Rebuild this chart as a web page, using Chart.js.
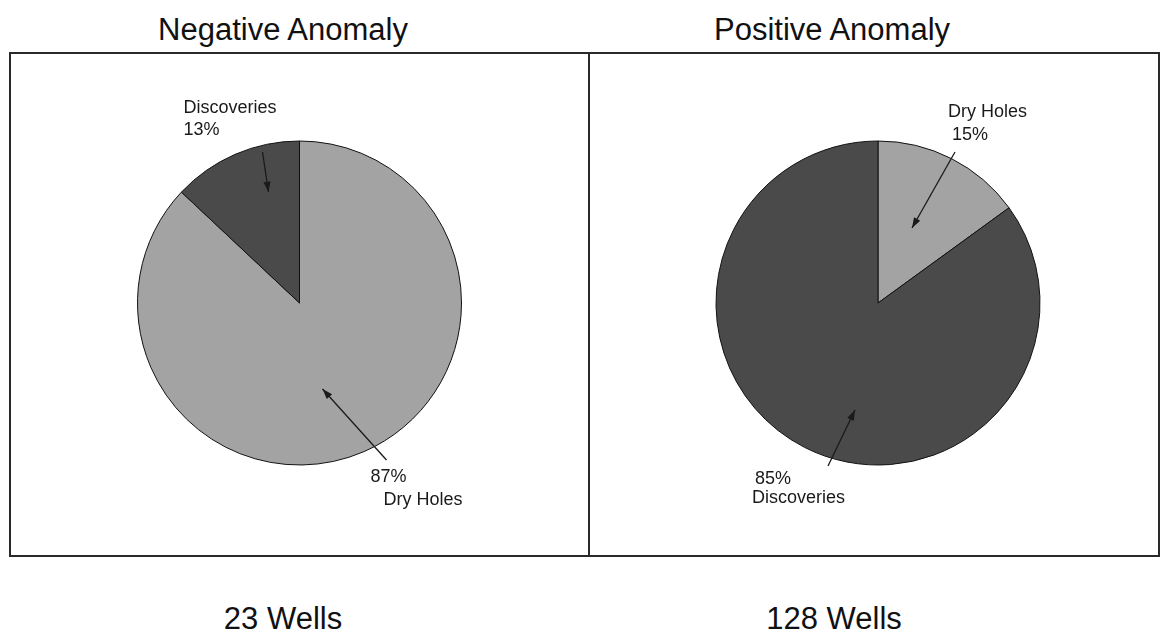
<!DOCTYPE html>
<html>
<head>
<meta charset="utf-8">
<script src="https://cdn.jsdelivr.net/npm/chart.js@4.4.1/dist/chart.umd.min.js"></script>
<style>
  body { margin: 0; background: #fff; }
  #wrap { position: relative; width: 1160px; height: 635px; font-family: "Liberation Sans", Arial, sans-serif; color: #111; }
  .frame { position: absolute; top: 52px; height: 501px; border: 2px solid #2a2a2a; }
  .head, .foot { position: absolute; width: 400px; text-align: center; font-size: 31px; line-height: 31px; }
  canvas { position: absolute; }
</style>
</head>
<body>
<div id="wrap">
  <div class="frame" style="left:9px; width:1147px;"></div>
  <div style="position:absolute; left:588px; top:52px; width:2px; height:505px; background:#2a2a2a;"></div>
  <div class="head" style="left:83px; top:14px;">Negative Anomaly</div>
  <div class="head" style="left:632px; top:14px;">Positive Anomaly</div>
  <div class="foot" style="left:83px; top:603px;">23 Wells</div>
  <div class="foot" style="left:634px; top:603px;">128 Wells</div>
  <canvas id="negChart" style="left:11px; top:54px; width:577px; height:498px;"></canvas>
  <canvas id="posChart" style="left:590px; top:54px; width:566px; height:498px;"></canvas>
</div>
<script>
const categories = ['Dry Holes', 'Discoveries'];
const negativeValues = [87, 13];
const positiveValues = [15, 85];
const wellCounts = [23, 128];

const DARK = '#4a4a4a';
const LIGHT = '#a3a3a3';

// callout text + arrow, offsets in px from the pie centre
function drawCallouts(chart, callouts) {
  const arc = chart.getDatasetMeta(0).data[0];
  const cx = arc.x, cy = arc.y;
  const c = chart.ctx;
  const values = chart.data.datasets[0].data;
  c.save();
  c.font = '18px "Liberation Sans", Arial, sans-serif';
  c.fillStyle = '#1a1a1a';
  c.strokeStyle = '#1a1a1a';
  c.textBaseline = 'alphabetic';
  callouts.forEach(co => {
    const name = chart.data.labels[co.index];
    const pct = values[co.index] + '%';
    const lines = co.pctFirst ? [pct, name] : [name, pct];
    lines.forEach((txt, i) => {
      c.fillText(txt, cx + co.text[i][0], cy + co.text[i][1]);
    });
    const [x1, y1] = [cx + co.from[0], cy + co.from[1]];
    const [x2, y2] = [cx + co.to[0], cy + co.to[1]];
    c.lineWidth = 1.3;
    c.beginPath();
    c.moveTo(x1, y1);
    c.lineTo(x2, y2);
    c.stroke();
    const a = Math.atan2(y2 - y1, x2 - x1);
    c.beginPath();
    c.moveTo(x2, y2);
    c.lineTo(x2 - 11 * Math.cos(a - 0.33), y2 - 11 * Math.sin(a - 0.33));
    c.lineTo(x2 - 11 * Math.cos(a + 0.33), y2 - 11 * Math.sin(a + 0.33));
    c.closePath();
    c.fill();
  });
  c.restore();
}

function makePie(id, values, callouts, pad) {
  return new Chart(document.getElementById(id), {
    type: 'pie',
    data: {
      labels: categories,
      datasets: [{
        data: values,
        backgroundColor: [LIGHT, DARK],
        borderColor: '#111',
        borderWidth: 1,
        radius: 162
      }]
    },
    options: {
      responsive: false,
      animation: false,
      layout: { padding: pad },
      plugins: { legend: { display: false }, tooltip: { enabled: false } }
    },
    plugins: [{
      id: 'callouts',
      afterDraw: chart => drawCallouts(chart, callouts)
    }]
  });
}

makePie('negChart', negativeValues, [
  { index: 1, pctFirst: false, text: [[-116, -190], [-116, -168]], from: [-37, -151], to: [-31, -111] },
  { index: 0, pctFirst: true, text: [[71, 179], [84, 202]], from: [87, 157], to: [23, 86] }
], 0);

makePie('posChart', positiveValues, [
  { index: 0, pctFirst: false, text: [[70, -186], [74, -163]], from: [77, -151], to: [34, -75] },
  { index: 1, pctFirst: true, text: [[-123, 181], [-126, 200]], from: [-50, 163], to: [-23, 107] }
], { left: 10 });
</script>
</body>
</html>
